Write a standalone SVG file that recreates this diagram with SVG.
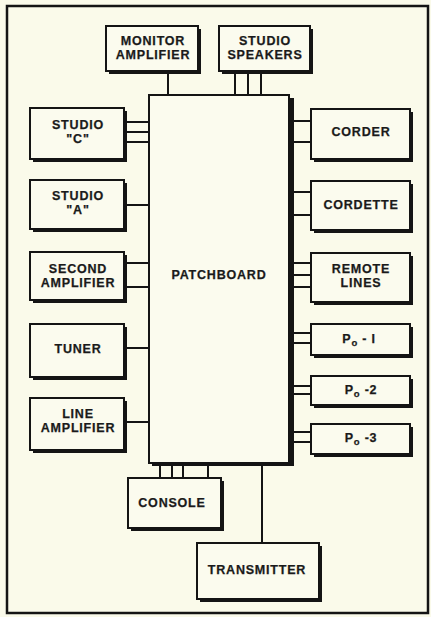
<svg xmlns="http://www.w3.org/2000/svg" width="431" height="617" viewBox="0 0 431 617">
<style>
.sh{fill:#141414}
.bx{fill:#fbfbee;stroke:#141414;stroke-width:2}
.t{font-family:"Liberation Sans",Arial,sans-serif;font-weight:bold;font-size:12.5px;letter-spacing:0.8px;fill:#1a1a1a;stroke:#1a1a1a;stroke-width:0.25;text-anchor:middle}
.c line{stroke:#141414;stroke-width:2}
</style>
<rect x="0" y="0" width="431" height="617" fill="#fafaea"/>
<rect x="7" y="6" width="421" height="607" fill="none" stroke="#141414" stroke-width="2.5"/>
<g class="c" id="connectors">
<line x1="168" y1="72" x2="168" y2="95"/>
<line x1="235" y1="72" x2="235" y2="95"/>
<line x1="248" y1="72" x2="248" y2="95"/>
<line x1="261" y1="72" x2="261" y2="95"/>
<line x1="126" y1="122" x2="149" y2="122"/>
<line x1="126" y1="132" x2="149" y2="132"/>
<line x1="126" y1="142" x2="149" y2="142"/>
<line x1="126" y1="205" x2="149" y2="205"/>
<line x1="126" y1="263" x2="149" y2="263"/>
<line x1="126" y1="287" x2="149" y2="287"/>
<line x1="126" y1="348" x2="149" y2="348"/>
<line x1="126" y1="422" x2="149" y2="422"/>
<line x1="291" y1="121" x2="311" y2="121"/>
<line x1="291" y1="142" x2="311" y2="142"/>
<line x1="291" y1="192" x2="311" y2="192"/>
<line x1="291" y1="215" x2="311" y2="215"/>
<line x1="291" y1="263" x2="311" y2="263"/>
<line x1="291" y1="275" x2="311" y2="275"/>
<line x1="291" y1="287" x2="311" y2="287"/>
<line x1="291" y1="333" x2="311" y2="333"/>
<line x1="291" y1="343" x2="311" y2="343"/>
<line x1="291" y1="386" x2="311" y2="386"/>
<line x1="291" y1="394" x2="311" y2="394"/>
<line x1="291" y1="432" x2="311" y2="432"/>
<line x1="291" y1="442" x2="311" y2="442"/>
<line x1="160" y1="464" x2="160" y2="478"/>
<line x1="172" y1="464" x2="172" y2="478"/>
<line x1="183" y1="464" x2="183" y2="478"/>
<line x1="208" y1="464" x2="208" y2="478"/>
<line x1="262" y1="464" x2="262" y2="543"/>
</g>
<g id="patchboard"><rect class="sh" x="152" y="98" width="142" height="368"/><rect class="bx" x="149" y="95" width="140" height="368"/><text class="t" x="219" y="279" font-size="12" letter-spacing="0.6">PATCHBOARD</text></g>
<g id="monitor"><rect class="sh" x="109" y="29" width="92" height="45"/><rect class="bx" x="106" y="26" width="92" height="45"/><text class="t" x="153" y="45">MONITOR</text><text class="t" x="153" y="59">AMPLIFIER</text></g>
<g id="speakers"><rect class="sh" x="222" y="29" width="91" height="45"/><rect class="bx" x="219" y="26" width="91" height="45"/><text class="t" x="265" y="45">STUDIO</text><text class="t" x="265" y="59">SPEAKERS</text></g>
<g id="studioc"><rect class="sh" x="33" y="111" width="94" height="51"/><rect class="bx" x="30" y="108" width="94" height="51"/><text class="t" x="78" y="129">STUDIO</text><text class="t" x="78" y="143">"C"</text></g>
<g id="studioa"><rect class="sh" x="33" y="183" width="94" height="49"/><rect class="bx" x="30" y="180" width="94" height="49"/><text class="t" x="78" y="200">STUDIO</text><text class="t" x="78" y="214">"A"</text></g>
<g id="second"><rect class="sh" x="33" y="255" width="94" height="48"/><rect class="bx" x="30" y="252" width="94" height="48"/><text class="t" x="78" y="273">SECOND</text><text class="t" x="78" y="287">AMPLIFIER</text></g>
<g id="tuner"><rect class="sh" x="33" y="327" width="94" height="53"/><rect class="bx" x="30" y="324" width="94" height="53"/><text class="t" x="78" y="353">TUNER</text></g>
<g id="lineamp"><rect class="sh" x="33" y="401" width="94" height="52"/><rect class="bx" x="30" y="398" width="94" height="52"/><text class="t" x="78" y="418">LINE</text><text class="t" x="78" y="432">AMPLIFIER</text></g>
<g id="corder"><rect class="sh" x="314" y="112" width="99" height="50"/><rect class="bx" x="311" y="109" width="99" height="50"/><text class="t" x="361" y="136">CORDER</text></g>
<g id="cordette"><rect class="sh" x="314" y="184" width="99" height="49"/><rect class="bx" x="311" y="181" width="99" height="49"/><text class="t" x="361" y="209">CORDETTE</text></g>
<g id="remote"><rect class="sh" x="314" y="256" width="99" height="49"/><rect class="bx" x="311" y="253" width="99" height="49"/><text class="t" x="361" y="273">REMOTE</text><text class="t" x="361" y="287">LINES</text></g>
<g id="po1"><rect class="sh" x="314" y="327" width="99" height="31"/><rect class="bx" x="311" y="324" width="99" height="31"/><text class="t" x="359" y="343">P<tspan font-size="9.5" dy="3">o</tspan><tspan dy="-3"> - I</tspan></text></g>
<g id="po2"><rect class="sh" x="314" y="379" width="99" height="29"/><rect class="bx" x="311" y="376" width="99" height="29"/><text class="t" x="361" y="394">P<tspan font-size="9.5" dy="3">o</tspan><tspan dy="-3"> -2</tspan></text></g>
<g id="po3"><rect class="sh" x="314" y="427" width="99" height="30"/><rect class="bx" x="311" y="424" width="99" height="30"/><text class="t" x="361" y="442">P<tspan font-size="9.5" dy="3">o</tspan><tspan dy="-3"> -3</tspan></text></g>
<g id="console"><rect class="sh" x="131" y="481" width="93" height="50"/><rect class="bx" x="128" y="478" width="93" height="50"/><text class="t" x="172" y="507">CONSOLE</text></g>
<g id="transmitter"><rect class="sh" x="200" y="546" width="122" height="56"/><rect class="bx" x="197" y="543" width="122" height="56"/><text class="t" x="257" y="574">TRANSMITTER</text></g>
</svg>
